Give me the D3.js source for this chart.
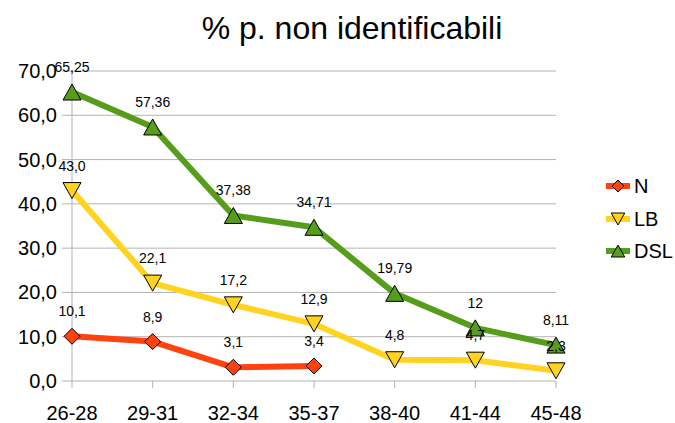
<!DOCTYPE html>
<html>
<head>
<meta charset="utf-8">
<script src="https://cdn.jsdelivr.net/npm/d3@7"></script>
<style>
  body { margin: 0; background: #fff; }
  text { font-family: "Liberation Sans", Arial, sans-serif; fill: #000; }
</style>
</head>
<body>
<div id="vis"></div>
<script>
// chart data
const categories = ["26-28", "29-31", "32-34", "35-37", "38-40", "41-44", "45-48"];
const seriesNames = ["N", "LB", "DSL"];
const valuesN = [10.1, 8.9, 3.1, 3.4, null, null, null];
const valuesLB = [43.0, 22.1, 17.2, 12.9, 4.8, 4.7, 2.3];
const valuesDSL = [65.25, 57.36, 37.38, 34.71, 19.79, 12, 8.11];
const labelsN = ["10,1", "8,9", "3,1", "3,4", null, null, null];
const labelsLB = ["43,0", "22,1", "17,2", "12,9", "4,8", "4,7", "2,3"];
const labelsDSL = ["65,25", "57,36", "37,38", "34,71", "19,79", "12", "8,11"];
const yTicks = [0, 10, 20, 30, 40, 50, 60, 70];

const width = 675, height = 423;
const margin = {left: 72, right: 119, top: 71, bottom: 42};

const svg = d3.select("#vis").append("svg")
  .attr("width", width)
  .attr("height", height);

const x = d3.scalePoint()
  .domain(categories)
  .range([margin.left, width - margin.right])
  .padding(0);

const y = d3.scaleLinear()
  .domain([0, 70])
  .range([height - margin.bottom, margin.top]);

const fmt = v => d3.format(".1f")(v).replace(".", ",");

// title
svg.append("text")
  .attr("x", 352)
  .attr("y", 39)
  .attr("text-anchor", "middle")
  .style("font-size", "32px")
  .text("% p. non identificabili");

// horizontal grid
svg.append("g")
  .selectAll("line")
  .data(yTicks)
  .join("line")
  .attr("x1", margin.left - 10)
  .attr("x2", width - margin.right)
  .attr("y1", d => y(d))
  .attr("y2", d => y(d))
  .attr("stroke", "#b3b3b3")
  .attr("stroke-width", 1);

// y axis line
svg.append("line")
  .attr("x1", margin.left).attr("x2", margin.left)
  .attr("y1", y(70)).attr("y2", y(0) + 7)
  .attr("stroke", "#b3b3b3");

// x ticks
svg.append("g")
  .selectAll("line")
  .data(categories.slice(1))
  .join("line")
  .attr("x1", d => x(d)).attr("x2", d => x(d))
  .attr("y1", y(0)).attr("y2", y(0) + 7)
  .attr("stroke", "#b3b3b3");

// y tick labels
svg.append("g")
  .selectAll("text")
  .data(yTicks)
  .join("text")
  .attr("x", margin.left - 15)
  .attr("y", d => y(d) + 7)
  .attr("text-anchor", "end")
  .style("font-size", "20px")
  .text(fmt);

// x tick labels
svg.append("g")
  .selectAll("text")
  .data(categories)
  .join("text")
  .attr("x", d => x(d))
  .attr("y", y(0) + 39)
  .attr("text-anchor", "middle")
  .style("font-size", "20px")
  .text(d => d);

const series = [
  {name: "N", values: valuesN, labels: labelsN, color: "#ff420e", shape: "diamond"},
  {name: "LB", values: valuesLB, labels: labelsLB, color: "#ffd320", shape: "down"},
  {name: "DSL", values: valuesDSL, labels: labelsDSL, color: "#579d1c", shape: "up"}
];

function markerPath(shape) {
  if (shape === "diamond") return "M0,-8L8,0L0,8L-8,0Z";
  if (shape === "down") return "M-9,-8L9,-8L0,8Z";
  return "M0,-8L9,8L-9,8Z";
}

const line = d3.line()
  .defined(d => d.v != null)
  .x(d => x(d.c))
  .y(d => y(d.v));

series.forEach(s => {
  const pts = categories.map((c, i) => ({c: c, v: s.values[i], label: s.labels[i]}));
  const g = svg.append("g");

  g.append("path")
    .datum(pts)
    .attr("d", line)
    .attr("fill", "none")
    .attr("stroke", s.color)
    .attr("stroke-width", 6)
    .attr("stroke-linejoin", "round");

  g.selectAll(".mark")
    .data(pts.filter(d => d.v != null))
    .join("path")
    .attr("class", "mark")
    .attr("transform", d => `translate(${x(d.c)},${y(d.v)})`)
    .attr("d", markerPath(s.shape))
    .attr("fill", s.color)
    .attr("stroke", "#000")
    .attr("stroke-width", 1);
});

// data labels drawn after all lines
series.forEach(s => {
  const pts = categories.map((c, i) => ({c: c, v: s.values[i], label: s.labels[i]}));
  svg.append("g")
    .selectAll("text")
    .data(pts.filter(d => d.v != null))
    .join("text")
    .attr("x", d => x(d.c))
    .attr("y", d => y(d.v) - 20)
    .attr("text-anchor", "middle")
    .style("font-size", "14px")
    .text(d => d.label);
});

// legend
const legend = svg.append("g");
const legY = [186, 219, 251];
series.forEach((s, i) => {
  const ly = legY[i];
  legend.append("line")
    .attr("x1", 606).attr("x2", 630)
    .attr("y1", ly).attr("y2", ly)
    .attr("stroke", s.color)
    .attr("stroke-width", 6);
  legend.append("path")
    .attr("transform", `translate(618,${ly}) scale(0.75)`)
    .attr("d", markerPath(s.shape))
    .attr("fill", s.color)
    .attr("stroke", "#000")
    .attr("stroke-width", 1.3);
  legend.append("text")
    .attr("x", 634)
    .attr("y", ly + 7)
    .style("font-size", "20px")
    .text(s.name);
});
</script>
</body>
</html>
